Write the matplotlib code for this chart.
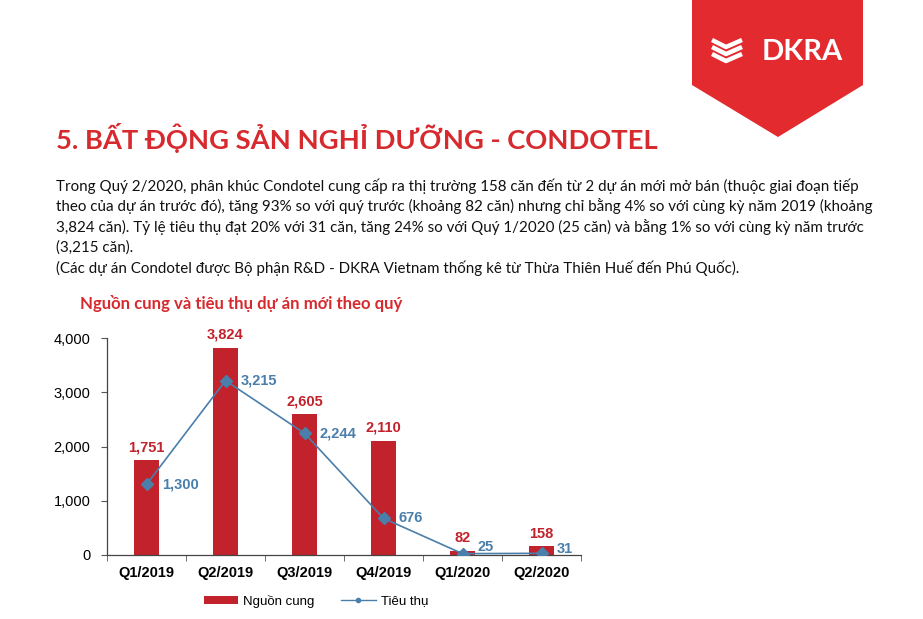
import matplotlib
matplotlib.use("Agg")
import matplotlib.pyplot as plt
from matplotlib.lines import Line2D
from matplotlib.patches import Patch, Polygon
import numpy as np

# du lieu doc tu bieu do
quarters = ["Q1/2019", "Q2/2019", "Q3/2019", "Q4/2019", "Q1/2020", "Q2/2020"]
supply = [1751, 3824, 2605, 2110, 82, 158]
absorption = [1300, 3215, 2244, 676, 25, 31]

title = "5. BẤT ĐỘNG SẢN NGHỈ DƯỠNG - CONDOTEL"
body_lines = [
    "Trong Quý 2/2020, phân khúc Condotel cung cấp ra thị trường 158 căn đến từ 2 dự án mới mở bán (thuộc giai đoạn tiếp",
    "theo của dự án trước đó), tăng 93% so với quý trước (khoảng 82 căn) nhưng chỉ bằng 4% so với cùng kỳ năm 2019 (khoảng",
    "3,824 căn). Tỷ lệ tiêu thụ đạt 20% với 31 căn, tăng 24% so với Quý 1/2020 (25 căn) và bằng 1% so với cùng kỳ năm trước",
    "(3,215 căn).",
    "(Các dự án Condotel được Bộ phận R&D - DKRA Vietnam thống kê từ Thừa Thiên Huế đến Phú Quốc).",
]
chart_title = "Nguồn cung và tiêu thụ dự án mới theo quý"

bar_red = "#c1222b"
line_blue = "#4a7eab"
title_red = "#d62a2f"
logo_red = "#e22a2f"

# nhan gan truc 0 duoc day len mot chut
label_dy = [0, 0, 0, 0, 5, 3]

W, H = 923, 619
fig = plt.figure(figsize=(W / 100, H / 100), dpi=100)


def fx(px):
    return px / W


def fy(py):
    return 1 - py / H


# logo DKRA
logo = Polygon([(fx(692), fy(0)), (fx(863), fy(0)), (fx(863), fy(85)),
                (fx(778), fy(137)), (fx(692), fy(85))],
               closed=True, transform=fig.transFigure, facecolor=logo_red,
               edgecolor="none")
fig.patches.append(logo)
# icon nho
for dy in (0, 7, 14):
    fig.lines.append(Line2D([fx(712), fx(726), fx(742)],
                            [fy(40 + dy), fy(47 + dy), fy(40 + dy)],
                            transform=fig.transFigure, color="white", lw=3.2,
                            solid_capstyle="butt"))
fig.text(fx(762), fy(52), "DKRA", color="white", fontsize=21,
         fontweight="bold", family="Lato", va="center", ha="left")

# tieu de va noi dung
fig.text(fx(56), fy(138), title, color=title_red, fontsize=19.7,
         fontweight="bold", family="Lato", va="center", ha="left")
for i, line in enumerate(body_lines):
    fig.text(fx(56), fy(186 + i * 20.5), line, color="#111111", fontsize=10.9,
             family="Lato", va="center", ha="left")
fig.text(fx(80), fy(303), chart_title, color=title_red, fontsize=12.1,
         fontweight="bold", family="Lato", va="center", ha="left")

# bieu do
ax = fig.add_axes([fx(107), fy(555), fx(581) - fx(107), fy(338) - fy(555)])
x = np.arange(len(quarters))
ax.bar(x, supply, width=0.32, color=bar_red, zorder=2)
ax.plot(x, absorption, color=line_blue, lw=1.2, marker="D", markersize=6,
        zorder=3)

for xi, v in zip(x, supply):
    ax.annotate(f"{v:,}", (xi, v), xytext=(0, 4), textcoords="offset points",
                ha="center", va="bottom", color=bar_red, fontsize=10.5,
                fontweight="bold", family="Liberation Sans")
for xi, v, dy in zip(x, absorption, label_dy):
    ax.annotate(f"{v:,}", (xi, v), xytext=(11, dy), textcoords="offset points",
                ha="left", va="center", color=line_blue, fontsize=10.5,
                fontweight="bold", family="Liberation Sans")

ax.set_xlim(-0.5, len(quarters) - 0.5)
ax.set_ylim(0, 4000)
ax.set_yticks([0, 1000, 2000, 3000, 4000])
ax.set_yticklabels([f"{t:,}" for t in [0, 1000, 2000, 3000, 4000]],
                   family="Liberation Sans", fontsize=10.5)
ax.set_xticks(x)
ax.set_xticklabels(quarters, family="Liberation Sans", fontsize=10.5,
                   fontweight="bold")
ax.set_xticks(np.arange(-0.5, len(quarters)), minor=True)
ax.tick_params(axis="x", which="major", length=0, pad=8)
ax.tick_params(axis="x", which="minor", length=4, direction="out", color="#555555")
ax.tick_params(axis="y", length=4, direction="out", color="#555555", pad=8)
for s in ["top", "right"]:
    ax.spines[s].set_visible(False)
for s in ["left", "bottom"]:
    ax.spines[s].set_color("#444444")
    ax.spines[s].set_linewidth(0.9)

handles = [Patch(facecolor=bar_red),
           Line2D([0], [0], color=line_blue, lw=1, marker="o", markersize=3)]
fig.legend(handles, ["Nguồn cung", "Tiêu thụ"], loc="center",
           bbox_to_anchor=(fx(316), fy(601)), ncol=2, frameon=False,
           prop={"family": "Liberation Sans", "size": 9.5},
           handlelength=2.6, handleheight=0.5, columnspacing=2.0,
           handletextpad=0.4)

fig.savefig("out.png", dpi=100)
